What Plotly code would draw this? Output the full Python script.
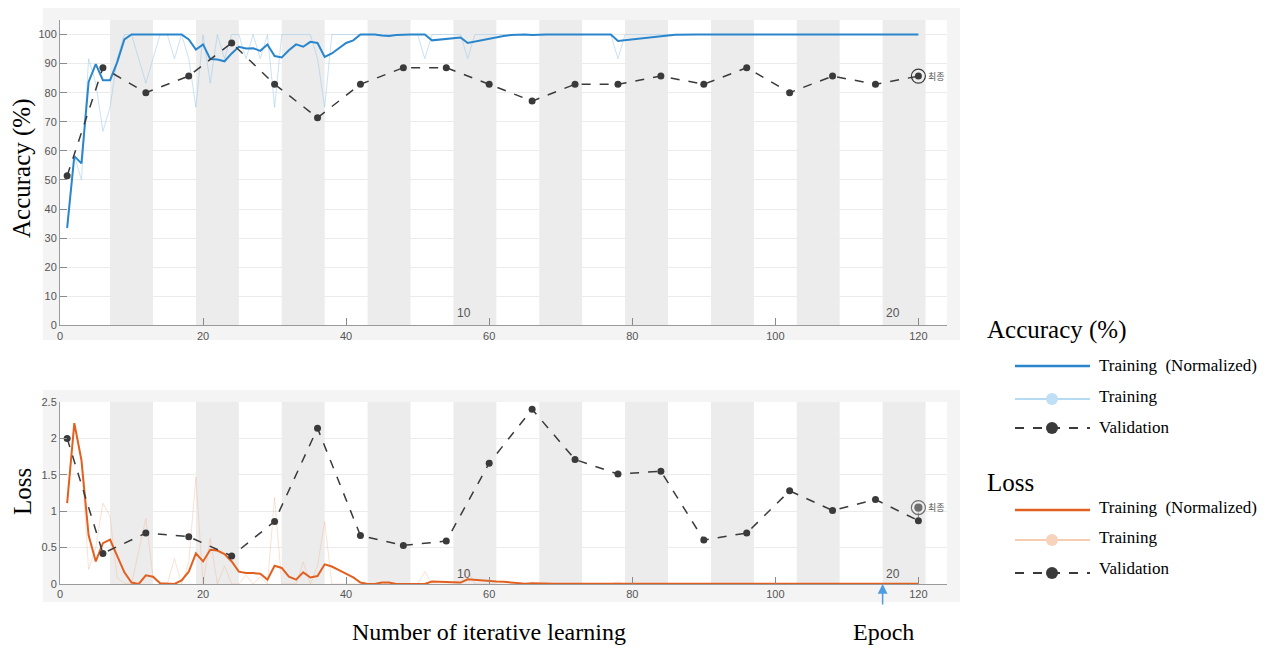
import plotly.graph_objects as go

W, H = 1270, 648

# ---------------- data ----------------
iterations = list(range(1, 121))

acc_norm = [33.5, 58.2, 55.7, 83.7, 89.8, 84.3, 84.3, 90.5, 98.3, 100,
            100, 100, 100, 100, 100, 100, 100, 98.3, 94.8, 96.6,
            91.6, 91.4, 90.8, 93.5, 95.8, 95.2, 95.3, 94.4, 96.6, 92.6,
            92.1, 94.6, 96.6, 95.8, 97.5, 97.1, 92.3, 93.5, 95.2, 97.1,
            98.0, 100, 100, 100, 99.7, 99.5, 99.8, 100, 100, 100,
            100, 98.0, 98.3, 98.6, 98.8, 99.0, 97.1, 97.6, 98.1, 98.6,
            99.1, 99.5, 99.8, 100, 100, 99.8, 100, 100, 100, 100,
            100, 100, 100, 100, 100, 100, 100, 97.8, 98.1, 98.4,
            98.7, 99.0, 99.3, 99.5, 99.7, 99.9, 100, 100, 100, 100,
            100, 100, 100, 100, 100, 100, 100, 100, 100, 100,
            100, 100, 100, 100, 100, 100, 100, 100, 100, 100,
            100, 100, 100, 100, 100, 100, 100, 100, 100, 100]

acc_raw = [33.3, 58.3, 50.0, 91.7, 83.3, 66.7, 75.0, 91.7, 100, 100,
           91.7, 83.3, 91.7, 100, 100, 91.7, 100, 91.7, 75.0, 100,
           83.3, 100, 91.7, 100, 100, 91.7, 100, 91.7, 100, 75.0,
           100, 100, 100, 100, 100, 91.7, 75.0, 100, 100, 100,
           100, 100, 100, 100, 100, 100, 100, 100, 100, 100,
           91.7, 100, 100, 100, 100, 100, 91.7, 100, 100, 100,
           100, 100, 100, 100, 100, 100, 100, 100, 100, 100,
           100, 100, 100, 100, 100, 100, 100, 91.7, 100, 100,
           100, 100, 100, 100, 100, 100, 100, 100, 100, 100,
           100, 100, 100, 100, 100, 100, 100, 100, 100, 100,
           100, 100, 100, 100, 100, 100, 100, 100, 100, 100,
           100, 100, 100, 100, 100, 100, 100, 100, 100, 100]

val_iters = [1, 6, 12, 18, 24, 30, 36, 42, 48, 54, 60, 66, 72, 78, 84, 90,
             96, 102, 108, 114, 120]
val_acc = [51.4, 88.6, 80.0, 85.7, 97.1, 82.9, 71.4, 82.9, 88.6, 88.6, 82.9,
           77.1, 82.9, 82.9, 85.7, 82.9, 88.6, 80.0, 85.7, 82.9, 85.7]

loss_norm = [1.11, 2.21, 1.70, 0.67, 0.31, 0.56, 0.61, 0.38, 0.16, 0.02,
             0.0, 0.12, 0.10, 0.01, 0.0, 0.0, 0.05, 0.17, 0.42, 0.31,
             0.47, 0.46, 0.41, 0.31, 0.17, 0.15, 0.15, 0.14, 0.06, 0.25,
             0.22, 0.10, 0.06, 0.16, 0.09, 0.11, 0.27, 0.24, 0.19, 0.14,
             0.09, 0.02, 0.0, 0.0, 0.02, 0.02, 0.0, 0.0, 0.0, 0.0,
             0.0, 0.035, 0.03, 0.025, 0.02, 0.02, 0.065, 0.055, 0.045, 0.035,
             0.035, 0.03, 0.02, 0.01, 0.005, 0.01, 0.005, 0.005, 0.005, 0.005,
             0.005, 0.005, 0.005, 0.005, 0.005, 0.005, 0.005, 0.015, 0.012, 0.01,
             0.008, 0.006, 0.005, 0.005, 0.005, 0.005, 0.008, 0.01, 0.008, 0.005,
             0.005, 0.005, 0.005, 0.005, 0.005, 0.005, 0.005, 0.005, 0.005, 0.005,
             0.005, 0.005, 0.005, 0.005, 0.005, 0.005, 0.005, 0.005, 0.005, 0.005,
             0.005, 0.005, 0.005, 0.005, 0.005, 0.005, 0.005, 0.005, 0.005, 0.005]

loss_raw = [1.11, 2.21, 1.70, 0.20, 0.50, 1.11, 0.93, 0.08, 0.01, 0.0,
            0.45, 0.90, 0.10, 0.0, 0.0, 0.35, 0.0, 0.30, 1.47, 0.0,
            0.63, 0.0, 0.25, 0.0, 0.0, 0.12, 0.0, 0.10, 0.0, 1.19,
            0.0, 0.0, 0.0, 0.30, 0.0, 0.25, 0.86, 0.0, 0.0, 0.0,
            0.0, 0.0, 0.0, 0.0, 0.02, 0.0, 0.0, 0.0, 0.0, 0.0,
            0.17, 0.0, 0.0, 0.0, 0.0, 0.0, 0.19, 0.0, 0.0, 0.0,
            0.0, 0.0, 0.0, 0.0, 0.0, 0.0, 0.0, 0.0, 0.0, 0.0,
            0.0, 0.0, 0.0, 0.0, 0.0, 0.0, 0.0, 0.03, 0.0, 0.0,
            0.0, 0.0, 0.0, 0.0, 0.0, 0.0, 0.0, 0.0, 0.0, 0.0,
            0.0, 0.0, 0.0, 0.0, 0.0, 0.0, 0.0, 0.0, 0.0, 0.0,
            0.0, 0.0, 0.0, 0.0, 0.0, 0.0, 0.0, 0.0, 0.0, 0.0,
            0.0, 0.0, 0.0, 0.0, 0.0, 0.0, 0.0, 0.0, 0.0, 0.0]

val_loss = [2.0, 0.42, 0.70, 0.65, 0.385, 0.86, 2.14, 0.665, 0.53, 0.59, 1.66,
            2.40, 1.71, 1.51, 1.55, 0.605, 0.70, 1.28, 1.01, 1.16, 0.87]

final_iter = 120
final_acc = 85.7
final_loss = 1.05

iters_per_epoch = 6
n_epochs = 20
epoch_labels = ["10", "20"]
epoch_label_iters = [56.5, 116.5]

x_ticks = [0, 20, 40, 60, 80, 100, 120]
acc_ticks = list(range(0, 101, 10))
loss_ticks = [0, 0.5, 1, 1.5, 2, 2.5]

# ---------------- styles ----------------
BLUE = "#2a86cc"
LBLUE = "rgba(150,200,235,0.5)"
ORANGE = "#e2601f"
LORANGE = "rgba(242,180,150,0.4)"
DARK = "#3a3a3a"
BAND = "#ececec"
PANEL = "#f4f4f4"
TICKC = "#555555"
SERIF = "Liberation Serif"
SANS = "Liberation Sans"


def px_x(p):
    return p / W


def px_y(p):
    return 1 - p / H


fig = go.Figure()

# accuracy traces
fig.add_trace(go.Scatter(x=iterations, y=acc_raw, mode="lines",
                         line=dict(color=LBLUE, width=1), xaxis="x", yaxis="y",
                         showlegend=False))
fig.add_trace(go.Scatter(x=iterations, y=acc_norm, mode="lines",
                         line=dict(color=BLUE, width=2), xaxis="x", yaxis="y",
                         showlegend=False))
fig.add_trace(go.Scatter(x=val_iters, y=val_acc, mode="lines+markers",
                         line=dict(color=DARK, width=1.5, dash="dash"),
                         marker=dict(color=DARK, size=7), xaxis="x", yaxis="y",
                         showlegend=False))
fig.add_trace(go.Scatter(x=[final_iter], y=[final_acc], mode="markers",
                         marker=dict(symbol="circle-open", size=14, color=DARK,
                                     line=dict(color=DARK, width=1.2)),
                         xaxis="x", yaxis="y", showlegend=False))

# loss traces
fig.add_trace(go.Scatter(x=iterations, y=loss_raw, mode="lines",
                         line=dict(color=LORANGE, width=1), xaxis="x2", yaxis="y2",
                         showlegend=False))
fig.add_trace(go.Scatter(x=iterations, y=loss_norm, mode="lines",
                         line=dict(color=ORANGE, width=2), xaxis="x2", yaxis="y2",
                         showlegend=False))
fig.add_trace(go.Scatter(x=val_iters, y=val_loss, mode="lines+markers",
                         line=dict(color=DARK, width=1.5, dash="dash"),
                         marker=dict(color=DARK, size=7), xaxis="x2", yaxis="y2",
                         showlegend=False))
fig.add_trace(go.Scatter(x=[final_iter, final_iter], y=[final_loss, final_loss],
                         mode="markers",
                         marker=dict(symbol=["circle-open", "circle"], size=[14, 7],
                                     color=DARK, line=dict(color=DARK, width=1.2)),
                         xaxis="x2", yaxis="y2", showlegend=False))

shapes = []
# light grey panels behind the plots
shapes.append(dict(type="rect", xref="paper", yref="paper", layer="below",
                   x0=px_x(43), x1=px_x(960), y0=px_y(340), y1=px_y(8),
                   fillcolor=PANEL, line=dict(width=0)))
shapes.append(dict(type="rect", xref="paper", yref="paper", layer="below",
                   x0=px_x(43), x1=px_x(960), y0=px_y(602), y1=px_y(390),
                   fillcolor=PANEL, line=dict(width=0)))
# white plot areas
shapes.append(dict(type="rect", xref="x domain", yref="y domain", layer="below",
                   x0=0, x1=1, y0=0, y1=1, fillcolor="white", line=dict(width=0)))
shapes.append(dict(type="rect", xref="x2 domain", yref="y2 domain", layer="below",
                   x0=0, x1=1, y0=0, y1=1, fillcolor="white", line=dict(width=0)))
# epoch bands
for e in range(1, n_epochs, 2):
    b0 = 1 + e * iters_per_epoch
    b1 = b0 + iters_per_epoch
    for xr, yr in (("x", "y domain"), ("x2", "y2 domain")):
        shapes.append(dict(type="rect", xref=xr, yref=yr, layer="below",
                           x0=b0, x1=b1, y0=0, y1=1, fillcolor=BAND,
                           line=dict(width=0)))

# small connector between final-loss marker and last validation point
shapes.append(dict(type="line", xref="x2", yref="y2", x0=final_iter, x1=final_iter,
                   y0=val_loss[-1] + 0.05, y1=final_loss - 0.07,
                   line=dict(color="#777777", width=1)))

# custom legend
LX0, LX1, LXC, TX = 1015, 1090, 1052, 1097
leg_rows = [
    (366, BLUE, 2.5, "solid", None),
    (399, "#b5dbf2", 2, "solid", "#bfe0f4"),
    (428, DARK, 2, "dash", DARK),
    (510, ORANGE, 2.5, "solid", None),
    (540, "#f6cdb3", 2, "solid", "#f7d3bd"),
    (573, DARK, 2, "dash", DARK),
]
for (yy, col, wd, dash, mcol) in leg_rows:
    shapes.append(dict(type="line", xref="paper", yref="paper",
                       x0=px_x(LX0), x1=px_x(LX1), y0=px_y(yy), y1=px_y(yy),
                       line=dict(color=col, width=wd, dash=dash)))
    if mcol:
        r = 6
        shapes.append(dict(type="circle", xref="paper", yref="paper",
                           x0=px_x(LXC - r), x1=px_x(LXC + r),
                           y0=px_y(yy + r), y1=px_y(yy - r),
                           fillcolor=mcol, line=dict(color=mcol, width=0)))

annotations = []


def ann(text, x, y, size, family=SERIF, color="black", xanchor="left",
        yanchor="middle", textangle=0):
    annotations.append(dict(text=text, x=px_x(x), y=px_y(y), xref="paper",
                            yref="paper", showarrow=False, xanchor=xanchor,
                            yanchor=yanchor, textangle=textangle,
                            font=dict(family=family, size=size, color=color)))


ann("Accuracy (%)", 985, 330, 25)
ann("Training  (Normalized)", TX, 366, 17)
ann("Training", TX, 396, 17)
ann("Validation", TX, 427, 17)
ann("Loss", 985, 482, 25)
ann("Training  (Normalized)", TX, 507, 17)
ann("Training", TX, 537, 17)
ann("Validation", TX, 568, 17)

ann("Accuracy (%)", 22, 168, 25, xanchor="center", textangle=-90)
ann("Loss", 22, 492, 25, xanchor="center", textangle=-90)
ann("Number of iterative learning", 489, 632, 24, xanchor="center")
ann("Epoch", 883, 632, 24, xanchor="center")

# epoch labels
for lab, xi in zip(epoch_labels, epoch_label_iters):
    annotations.append(dict(text=lab, x=xi, y=4.3, xref="x", yref="y",
                            showarrow=False, font=dict(family=SANS, size=12, color=TICKC)))
    annotations.append(dict(text=lab, x=xi, y=0.14, xref="x2", yref="y2",
                            showarrow=False, font=dict(family=SANS, size=12, color=TICKC)))

# final markers text
annotations.append(dict(text="최종", x=final_iter, y=final_acc, xref="x", yref="y",
                        xanchor="left", xshift=8, showarrow=False,
                        font=dict(family="Noto Sans CJK KR", size=9, color=TICKC)))
annotations.append(dict(text="최종", x=final_iter, y=final_loss, xref="x2", yref="y2",
                        xanchor="left", xshift=8, showarrow=False,
                        font=dict(family="Noto Sans CJK KR", size=9, color=TICKC)))

# epoch arrow
annotations.append(dict(text="", x=115, y=0, xref="x2", yref="y2", showarrow=True,
                        ax=0, ay=22, arrowhead=2, arrowsize=1.3, arrowwidth=1.5,
                        arrowcolor="#4d9be0"))

xdom = [px_x(60), px_x(947)]
axis_common = dict(showline=True, linecolor="#9a9a9a", linewidth=1,
                   ticks="inside", ticklen=7, tickcolor="#8a8a8a",
                   tickfont=dict(family=SANS, size=11, color=TICKC),
                   zeroline=False, automargin=False)

fig.update_layout(
    width=W, height=H,
    autosize=False,
    margin=dict(l=0, r=0, t=0, b=0, pad=0, autoexpand=False),
    paper_bgcolor="white",
    plot_bgcolor="rgba(0,0,0,0)",
    showlegend=False,
    shapes=shapes,
    annotations=annotations,
    xaxis=dict(domain=xdom, range=[0, 124], tickvals=x_ticks, showgrid=False,
               anchor="y", **axis_common),
    yaxis=dict(domain=[px_y(325.3), px_y(20)], range=[0, 105], tickvals=acc_ticks,
               showgrid=True, gridcolor="#ebebeb", gridwidth=1, anchor="x",
               **axis_common),
    xaxis2=dict(domain=xdom, range=[0, 124], tickvals=x_ticks, showgrid=False,
                anchor="y2", **axis_common),
    yaxis2=dict(domain=[px_y(584), px_y(402)], range=[0, 2.5], tickvals=loss_ticks,
                ticktext=["0", "0.5", "1", "1.5", "2", "2.5"],
                showgrid=True, gridcolor="#ebebeb", gridwidth=1, anchor="x2",
                **axis_common),
)

fig.write_html("out.html", config={"displayModeBar": False},
               post_script="document.body.style.margin='0';"
                           "document.body.style.overflow='hidden';")
